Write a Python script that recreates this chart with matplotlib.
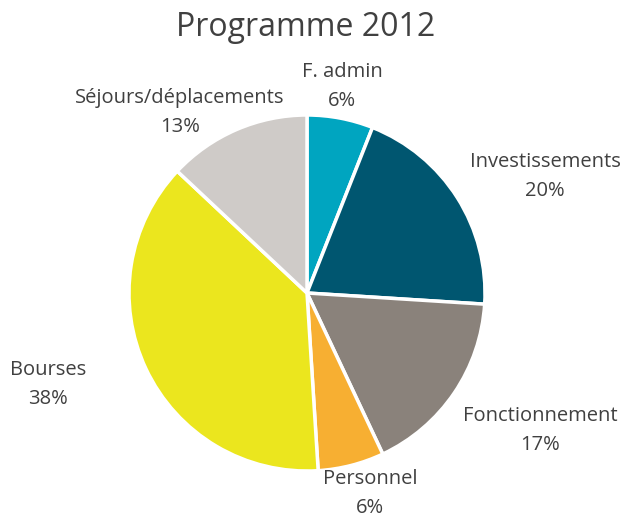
import matplotlib.pyplot as plt

# data
labels = ['F. admin', 'Investissements', 'Fonctionnement', 'Personnel', 'Bourses', 'Séjours/déplacements']
values = [6, 20, 17, 6, 38, 13]
colors = ['#00A5C0', '#005670', '#8A827B', '#F7AF32', '#EBE61E', '#CFCBC8']

# label placement (units of pie radius)
label_pos = [(0.197, 1.160), (1.337, 0.654), (1.309, -0.772),
             (0.354, -1.128), (-1.455, -0.514), (-0.713, 1.014)]

plt.rcParams['font.family'] = ['Open Sans', 'DejaVu Sans']

fig = plt.figure(figsize=(6.24, 5.19), dpi=100)
W, H = 624, 519
cx, cy, r = 307, 293, 178
ax = fig.add_axes([(cx - r) / W, (H - cy - r) / H, 2 * r / W, 2 * r / H])

ax.pie(values, colors=colors, startangle=90, counterclock=False,
       wedgeprops=dict(edgecolor='white', linewidth=2.5))
ax.set_xlim(-1, 1)
ax.set_ylim(-1, 1)
ax.set_aspect('equal')
ax.axis('off')

total = sum(values)
for lab, v, (x, y) in zip(labels, values, label_pos):
    ax.text(x, y, f'{lab}\n{round(100 * v / total)}%', ha='center', va='center',
            fontsize=14.5, color='#404040', linespacing=1.6)

fig.text(306 / W, 1 - 28 / H, 'Programme 2012', ha='center', va='center',
         fontsize=23, color='#404040')

fig.savefig('out.png', dpi=100)
